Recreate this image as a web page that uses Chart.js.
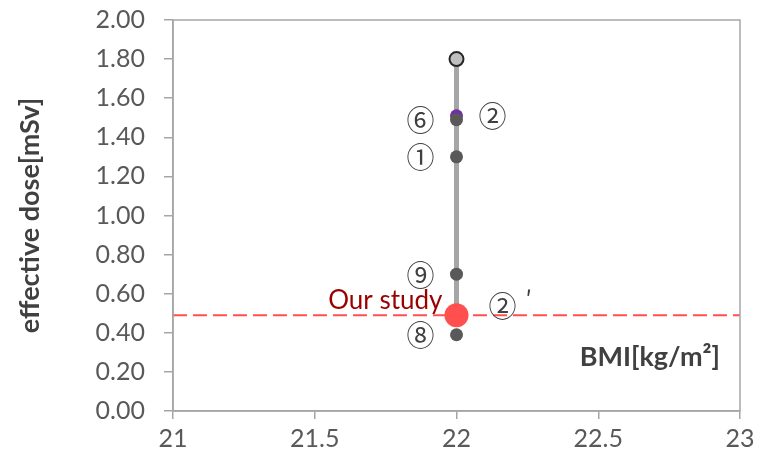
<!DOCTYPE html>
<html>
<head>
<meta charset="utf-8">
<script src="https://cdn.jsdelivr.net/npm/chart.js@4/dist/chart.umd.min.js"></script>
<style>
  html, body { margin: 0; padding: 0; background: #fff; }
  #wrap { width: 769px; height: 463px; }
</style>
</head>
<body>
<div id="wrap"><canvas id="c" width="769" height="463"></canvas></div>
<script>
// ---- data ----
const xTicks = [21, 21.5, 22, 22.5, 23];
const yTicks = [0, 0.2, 0.4, 0.6, 0.8, 1.0, 1.2, 1.4, 1.6, 1.8, 2.0];
const maxBMI = 22;      const maxDose = 1.80;               // highest reported value
const purpleBMI = [22]; const purpleDose = [1.51];          // ②
const otherBMI = [22, 22, 22, 22]; const otherDose = [1.49, 1.30, 0.70, 0.39]; // ⑥ ① ⑨ ⑧
const otherLabels = ['⑥', '①', '⑨', '⑧'];
const ourBMI = 22; const ourDose = 0.49;                    // Our study / ②′
const rangeBMI = [22, 22]; const rangeDose = [0.49, 1.80];
const refLineBMI = [21, 23]; const refLineDose = [0.49, 0.49];
const yTitle = 'effective dose[mSv]';
const xTitle = 'BMI[kg/m²]';

const pts = (xs, ys) => xs.map((x, i) => ({x, y: ys[i]}));
const FONT = 'Lato, "Open Sans", sans-serif';

const labelPlugin = {
  id: 'labels',
  afterDatasetsDraw(chart) {
    const {ctx, scales: {x, y}, chartArea} = chart;
    ctx.save();
    ctx.textBaseline = 'middle';
    ctx.fillStyle = '#404040';
    ctx.font = '28px "Noto Sans CJK JP"';
    ctx.textAlign = 'center';
    otherBMI.forEach((b, i) => {
      ctx.fillText(otherLabels[i], x.getPixelForValue(b) - 36, y.getPixelForValue(otherDose[i]) + 1);
    });
    ctx.fillText('②', x.getPixelForValue(purpleBMI[0]) + 36, y.getPixelForValue(purpleDose[0]) + 1);
    const oy = y.getPixelForValue(ourDose);
    ctx.fillText('②', x.getPixelForValue(ourBMI) + 46, oy - 9);
    ctx.font = '24px "Noto Sans CJK JP"';
    ctx.fillText('′', x.getPixelForValue(ourBMI) + 72, oy - 16);
    ctx.fillStyle = '#9b0000';
    ctx.font = '26px ' + FONT;
    ctx.textAlign = 'right';
    ctx.fillText('Our study', x.getPixelForValue(ourBMI) - 14, oy - 15);
    ctx.fillStyle = '#404040';
    ctx.font = 'bold 27px ' + FONT;
    ctx.textAlign = 'right';
    ctx.fillText(xTitle, chartArea.right - 20, chartArea.bottom - 54);
    // frame
    ctx.strokeStyle = '#a6a6a6';
    ctx.lineWidth = 1.5;
    ctx.strokeRect(chartArea.left, chartArea.top, chartArea.right - chartArea.left, chartArea.bottom - chartArea.top);
    ctx.restore();
  }
};

new Chart(document.getElementById('c'), {
  type: 'scatter',
  data: {
    datasets: [
      { data: [{x: ourBMI, y: ourDose}], backgroundColor: '#ff4f4f', borderWidth: 0, pointRadius: 12, order: 0 },
      { data: pts(otherBMI, otherDose), backgroundColor: '#595959', borderWidth: 0, pointRadius: 6.5, order: 1 },
      { data: pts(purpleBMI, purpleDose), backgroundColor: '#7030a0', borderWidth: 0, pointRadius: 6.5, order: 2 },
      { data: [{x: maxBMI, y: maxDose}], backgroundColor: '#bfbfbf', borderColor: '#262626', borderWidth: 2, pointRadius: 7, order: 3 },
      { type: 'line', data: pts(rangeBMI, rangeDose), borderColor: '#a6a6a6', borderWidth: 5, pointRadius: 0, order: 5 },
      { type: 'line', data: pts(refLineBMI, refLineDose), borderColor: '#ff4f4f', borderWidth: 2, borderDash: [14, 6], pointRadius: 0, order: 4 }
    ]
  },
  options: {
    responsive: false,
    animation: false,
    events: [],
    layout: { padding: { left: 0, right: 29, top: 20, bottom: 0 } },
    plugins: { legend: { display: false }, tooltip: { enabled: false } },
    scales: {
      x: {
        type: 'linear', min: 21, max: 23,
        afterBuildTicks: s => { s.ticks = xTicks.map(v => ({value: v})); },
        afterFit: s => { s.height = 52; s.paddingLeft = 0; s.paddingRight = 0; },
        grid: { drawOnChartArea: false, color: '#a6a6a6', lineWidth: 1.5, tickLength: 8 },
        border: { color: '#a6a6a6', width: 1.5 },
        ticks: { color: '#595959', font: { family: FONT, size: 25 }, padding: 5, maxRotation: 0,
                 callback: v => String(v) }
      },
      y: {
        type: 'linear', min: 0, max: 2,
        afterBuildTicks: s => { s.ticks = yTicks.map(v => ({value: v})); },
        afterFit: s => { s.width = 173; s.paddingTop = 0; s.paddingBottom = 0; },
        grid: { drawOnChartArea: false, color: '#a6a6a6', lineWidth: 1.5, tickLength: 9 },
        border: { color: '#a6a6a6', width: 1.5 },
        ticks: { color: '#595959', font: { family: FONT, size: 25 }, padding: 19,
                 callback: v => Number(v).toFixed(2) },
        title: { display: true, text: yTitle, color: '#404040', font: { family: FONT, size: 27, weight: 'bold' }, padding: { top: 14, bottom: 0 } }
      }
    }
  },
  plugins: [labelPlugin]
});
</script>
</body>
</html>
